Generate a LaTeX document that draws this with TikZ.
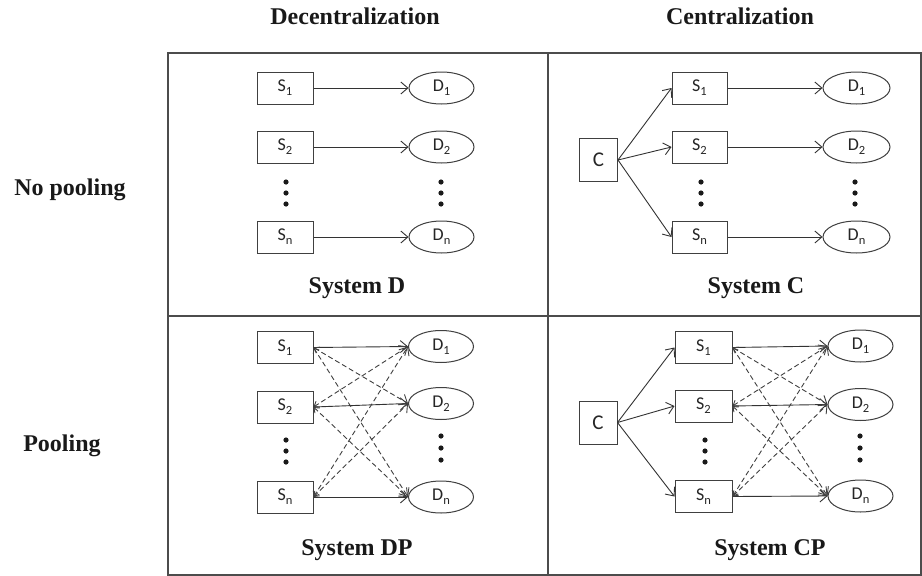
\documentclass[tikz,border=0pt]{standalone}
\usepackage{fontspec}
\setmainfont{Liberation Serif}
\newfontfamily\lblfont{Carlito}
\usetikzlibrary{shapes.geometric,arrows.meta}
\newcommand\lsub[1]{\raisebox{-0.45ex}{\fontsize{12.5}{12.5}\selectfont #1}}
\begin{document}
\begin{tikzpicture}[x=1pt,y=-1pt,
  sbox/.style={draw=black!75, line width=1pt, minimum width=56pt, minimum height=32pt, inner sep=0pt, font=\lblfont\fontsize{18}{18}\selectfont, text=black!85},
  dell/.style={ellipse, draw=black!75, line width=1pt, minimum width=65pt, minimum height=32pt, inner sep=0pt, font=\lblfont\fontsize{18}{18}\selectfont, text=black!85},
  cbox/.style={draw=black!75, line width=1pt, minimum width=38pt, minimum height=43pt, inner sep=0pt, font=\lblfont\fontsize{21}{21}\selectfont, text=black!85},
  head/.style={font=\bfseries\fontsize{24}{28}\selectfont, text=black!90},
  flow/.style={draw=black!80, line width=0.9pt, arrows={-Straight Barb[length=7pt,width=12pt]}},
  alt/.style={draw=black!75, line width=0.9pt, dash pattern=on 5pt off 3pt, arrows={Straight Barb[length=4.5pt,width=7pt]-Straight Barb[length=7pt,width=12pt]}},
  frame/.style={draw=black!70, line width=1.3pt},
  dotfill/.style={fill=black!90}
]
\useasboundingbox (0,0) rectangle (922,576);
\fill[white] (0,0) rectangle (922,576);

% table frame
\draw[frame] (168,53) rectangle (921,575);
\draw[frame] (548,53) -- (548,575);
\draw[frame] (168,316) -- (921,316);

% headers
\node[head] (hdec) at (355,16) {Decentralization};
\node[head] (hcen) at (740,16) {Centralization};
\node[head] (hnop) at (70,190) {No pooling};
\node[head] (hpool) at (62,446) {Pooling};

% ---------- System D ----------
\node[sbox] (dS1) at (285,88) {S\lsub{1}};
\node[sbox] (dS2) at (285,147) {S\lsub{2}};
\node[sbox] (dSn) at (285,237) {S\lsub{n}};
\node[dell] (dD1) at (441.5,88) {D\lsub{1}};
\node[dell] (dD2) at (441.5,147) {D\lsub{2}};
\node[dell] (dDn) at (441.5,237) {D\lsub{n}};
\foreach \yy in {182,193,204} {
  \fill[dotfill] (286,\yy) circle (2.6);
  \fill[dotfill] (441,\yy) circle (2.6);
}
\draw[flow] (dS1.east) -- (dD1.west);
\draw[flow] (dS2.east) -- (dD2.west);
\draw[flow] (dSn.east) -- (dDn.west);
\node[head] (capD) at (357,288) {System D};

% ---------- System C ----------
\node[cbox] (cC) at (598.5,160) {C};
\node[sbox, minimum width=55pt] (cS1) at (699.5,88) {S\lsub{1}};
\node[sbox, minimum width=55pt] (cS2) at (699.5,147) {S\lsub{2}};
\node[sbox, minimum width=55pt] (cSn) at (699.5,237) {S\lsub{n}};
\node[dell, minimum width=67pt] (cD1) at (856.5,88) {D\lsub{1}};
\node[dell, minimum width=67pt] (cD2) at (856.5,147) {D\lsub{2}};
\node[dell, minimum width=67pt] (cDn) at (856.5,237) {D\lsub{n}};
\foreach \yy in {182,193,204} {
  \fill[dotfill] (701,\yy) circle (2.6);
  \fill[dotfill] (855,\yy) circle (2.6);
}
\draw[flow] (cC.east) -- (cS1.west);
\draw[flow] (cC.east) -- (cS2.west);
\draw[flow] (cC.east) -- (cSn.west);
\draw[flow] (cS1.east) -- (cD1.west);
\draw[flow] (cS2.east) -- (cD2.west);
\draw[flow] (cSn.east) -- (cDn.west);
\node[head] (capC) at (756,288) {System C};

% ---------- System DP ----------
\node[sbox] (pS1) at (285,347.5) {S\lsub{1}};
\node[sbox] (pS2) at (285,407) {S\lsub{2}};
\node[sbox] (pSn) at (285,497) {S\lsub{n}};
\node[dell] (pD1) at (441,346.5) {D\lsub{1}};
\node[dell] (pD2) at (441,403.5) {D\lsub{2}};
\node[dell] (pDn) at (441,497) {D\lsub{n}};
\foreach \yy in {440,451,462} {
  \fill[dotfill] (286,\yy) circle (2.6);
}
\foreach \yy in {436,448,460} {
  \fill[dotfill] (441,\yy) circle (2.6);
}
\draw[flow] (pS1.east) -- (pD1.west);
\draw[flow] (pS2.east) -- (pD2.west);
\draw[flow] (pSn.east) -- (pDn.west);
\draw[alt] (pS1.east) -- (pD2.west);
\draw[alt] (pS1.east) -- (pDn.west);
\draw[alt] (pS2.east) -- (pD1.west);
\draw[alt] (pS2.east) -- (pDn.west);
\draw[alt] (pSn.east) -- (pD1.west);
\draw[alt] (pSn.east) -- (pD2.west);
\node[head] (capDP) at (357,550) {System DP};

% ---------- System CP ----------
\node[cbox] (qC) at (598,422.5) {C};
\node[sbox, minimum width=57pt] (qS1) at (703.5,347.5) {S\lsub{1}};
\node[sbox, minimum width=57pt] (qS2) at (703.5,406) {S\lsub{2}};
\node[sbox, minimum width=57pt] (qSn) at (703.5,496.5) {S\lsub{n}};
\node[dell] (qD1) at (860.5,346) {D\lsub{1}};
\node[dell] (qD2) at (860.5,404.5) {D\lsub{2}};
\node[dell] (qDn) at (860.5,496) {D\lsub{n}};
\foreach \yy in {440,451,462} {
  \fill[dotfill] (705,\yy) circle (2.6);
}
\foreach \yy in {436,448,460} {
  \fill[dotfill] (860,\yy) circle (2.6);
}
\draw[flow] (qC.east) -- (qS1.west);
\draw[flow] (qC.east) -- (qS2.west);
\draw[flow] (qC.east) -- (qSn.west);
\draw[flow] (qS1.east) -- (qD1.west);
\draw[flow] (qS2.east) -- (qD2.west);
\draw[flow] (qSn.east) -- (qDn.west);
\draw[alt] (qS1.east) -- (qD2.west);
\draw[alt] (qS1.east) -- (qDn.west);
\draw[alt] (qS2.east) -- (qD1.west);
\draw[alt] (qS2.east) -- (qDn.west);
\draw[alt] (qSn.east) -- (qD1.west);
\draw[alt] (qSn.east) -- (qD2.west);
\node[head] (capCP) at (770,550) {System CP};
\end{tikzpicture}
\end{document}
